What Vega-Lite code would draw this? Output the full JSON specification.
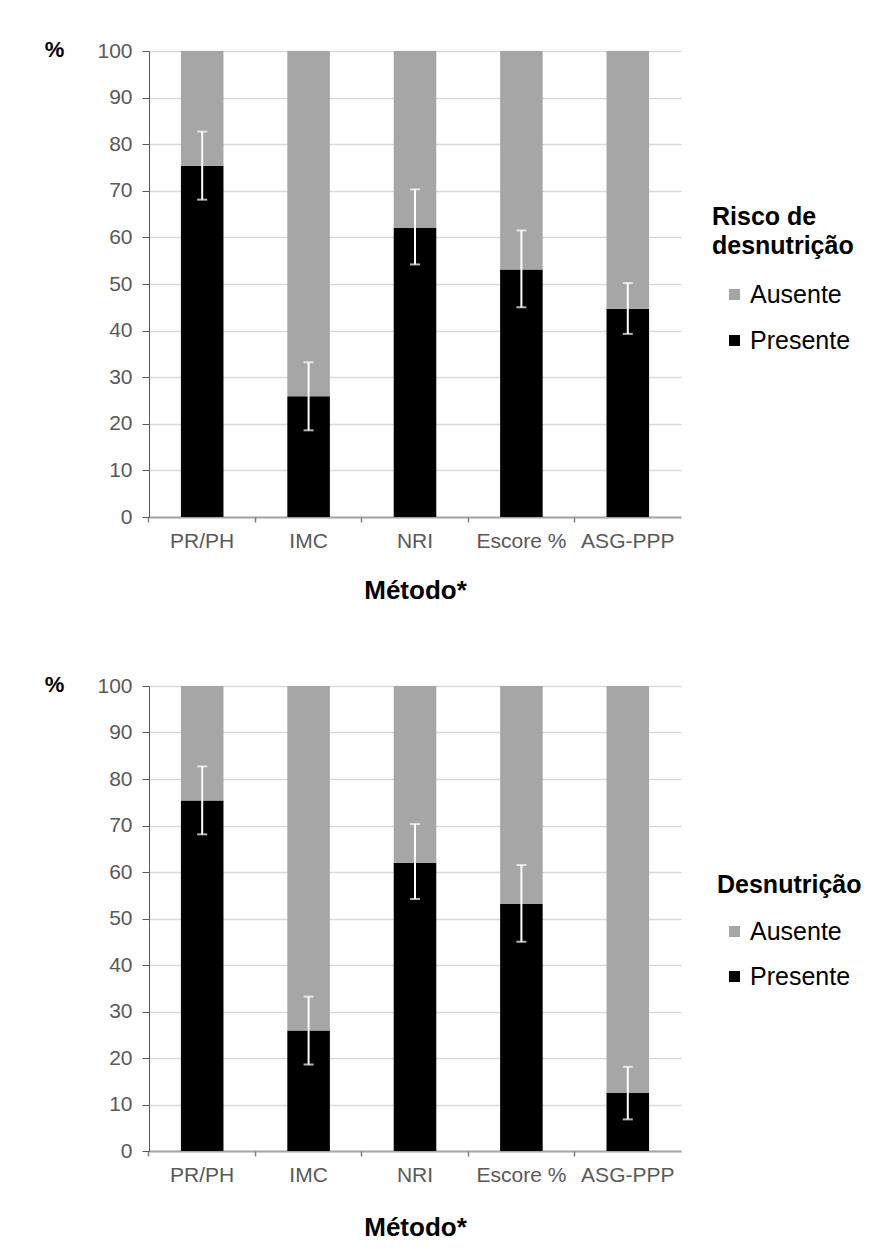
{
  "$schema": "https://vega.github.io/schema/vega-lite/v6.json",
  "background": "white",
  "padding": {"left": 44, "top": 38, "right": 5, "bottom": 5},
  "config": {
    "font": "Liberation Sans",
    "view": {"stroke": null},
    "axis": {"labelFont": "Liberation Sans", "titleFont": "Liberation Sans"},
    "legend": {"labelFont": "Liberation Sans", "titleFont": "Liberation Sans"}
  },
  "datasets": {
    "bars1": [
      {"metodo": "PR/PH", "status": "Presente", "valor": 75.4},
      {"metodo": "PR/PH", "status": "Ausente", "valor": 24.6},
      {"metodo": "IMC", "status": "Presente", "valor": 25.9},
      {"metodo": "IMC", "status": "Ausente", "valor": 74.1},
      {"metodo": "NRI", "status": "Presente", "valor": 62.0},
      {"metodo": "NRI", "status": "Ausente", "valor": 38.0},
      {"metodo": "Escore %", "status": "Presente", "valor": 53.1},
      {"metodo": "Escore %", "status": "Ausente", "valor": 46.9},
      {"metodo": "ASG-PPP", "status": "Presente", "valor": 44.7},
      {"metodo": "ASG-PPP", "status": "Ausente", "valor": 55.3}
    ],
    "err1": [
      {"metodo": "PR/PH", "lo": 68.1, "hi": 82.7},
      {"metodo": "IMC", "lo": 18.6, "hi": 33.2},
      {"metodo": "NRI", "lo": 54.2, "hi": 70.3},
      {"metodo": "Escore %", "lo": 45.0, "hi": 61.5},
      {"metodo": "ASG-PPP", "lo": 39.3, "hi": 50.2}
    ],
    "bars2": [
      {"metodo": "PR/PH", "status": "Presente", "valor": 75.4},
      {"metodo": "PR/PH", "status": "Ausente", "valor": 24.6},
      {"metodo": "IMC", "status": "Presente", "valor": 25.9},
      {"metodo": "IMC", "status": "Ausente", "valor": 74.1},
      {"metodo": "NRI", "status": "Presente", "valor": 62.0},
      {"metodo": "NRI", "status": "Ausente", "valor": 38.0},
      {"metodo": "Escore %", "status": "Presente", "valor": 53.1},
      {"metodo": "Escore %", "status": "Ausente", "valor": 46.9},
      {"metodo": "ASG-PPP", "status": "Presente", "valor": 12.5},
      {"metodo": "ASG-PPP", "status": "Ausente", "valor": 87.5}
    ],
    "err2": [
      {"metodo": "PR/PH", "lo": 68.1, "hi": 82.7},
      {"metodo": "IMC", "lo": 18.6, "hi": 33.2},
      {"metodo": "NRI", "lo": 54.2, "hi": 70.3},
      {"metodo": "Escore %", "lo": 45.0, "hi": 61.5},
      {"metodo": "ASG-PPP", "lo": 6.8, "hi": 18.1}
    ]
  },
  "resolve": {"scale": {"color": "independent"}},
  "spacing": 70,
  "vconcat": [
    {
      "width": 532,
      "height": 466,
      "resolve": {"axis": {"x": "independent"}},
      "layer": [
        {
          "data": {"name": "bars1"},
          "mark": {"type": "bar"},
          "encoding": {
            "x": {"field": "metodo", "type": "nominal", "title": "Método*",
              "sort": ["PR/PH", "IMC", "NRI", "Escore %", "ASG-PPP"],
              "scale": {"paddingInner": 0.6, "paddingOuter": 0.3},
              "axis": {"orient": "bottom", "labelAngle": 0, "labelFontSize": 21, "labelColor": "#595959", "labelPadding": 13,
                "ticks": false, "tickSize": 0, "domainColor": "#a6a6a6", "domainWidth": 2,
                "titleFontSize": 26, "titleFontWeight": "bold", "titleColor": "black", "titlePadding": 26}},
            "y": {"field": "valor", "type": "quantitative", "title": "%",
              "scale": {"domain": [0, 100]},
              "axis": {"values": [0, 10, 20, 30, 40, 50, 60, 70, 80, 90, 100],
                "labelFontSize": 21, "labelColor": "#595959", "labelPadding": 10,
                "tickSize": 7, "tickColor": "#595959", "domainColor": "#595959",
                "gridColor": "#d9d9d9", "gridWidth": 1.5,
                "titleAngle": 0, "titleX": -95, "titleY": -2, "titleAlign": "center", "titleBaseline": "middle",
                "titleFontSize": 22, "titleFontWeight": "bold", "titleColor": "black"}},
            "color": {"field": "status", "type": "nominal",
              "scale": {"domain": ["Ausente", "Presente"], "range": ["#a6a6a6", "#000000"]},
              "legend": {"orient": "none", "legendX": 563, "legendY": 154, "direction": "vertical",
                "title": ["Risco de", "desnutrição"], "titleFontSize": 25, "titleFontWeight": "bold",
                "titleColor": "black", "titleLineHeight": 29, "titlePadding": 23,
                "labelFontSize": 25, "labelColor": "black", "labelOffset": 3,
                "symbolType": "square", "symbolSize": 121, "symbolStrokeWidth": 0, "symbolOffset": 10,
                "rowPadding": 20, "padding": 0}},
            "order": {"field": "status", "sort": "descending"}
          }
        },
        {
          "data": {"name": "err1"},
          "mark": {"type": "rule", "color": "white", "strokeWidth": 2},
          "encoding": {
            "x": {"field": "metodo", "type": "nominal", "sort": ["PR/PH", "IMC", "NRI", "Escore %", "ASG-PPP"],
              "axis": {"orient": "bottom", "title": null, "labels": false, "domain": false, "grid": false, "ticks": true,
                "bandPosition": -0.75, "tickSize": 5, "tickColor": "#7f7f7f", "tickWidth": 1.5}},
            "y": {"field": "lo", "type": "quantitative", "title": "%"},
            "y2": {"field": "hi"}
          }
        },
        {
          "data": {"name": "err1"},
          "mark": {"type": "tick", "color": "white", "thickness": 2, "size": 10},
          "encoding": {
            "x": {"field": "metodo", "type": "nominal", "sort": ["PR/PH", "IMC", "NRI", "Escore %", "ASG-PPP"], "axis": null},
            "y": {"field": "lo", "type": "quantitative", "title": "%"}
          }
        },
        {
          "data": {"name": "err1"},
          "mark": {"type": "tick", "color": "white", "thickness": 2, "size": 10},
          "encoding": {
            "x": {"field": "metodo", "type": "nominal", "sort": ["PR/PH", "IMC", "NRI", "Escore %", "ASG-PPP"], "axis": null},
            "y": {"field": "hi", "type": "quantitative", "title": "%"}
          }
        }
      ]
    },
    {
      "width": 532,
      "height": 465,
      "resolve": {"axis": {"x": "independent"}},
      "layer": [
        {
          "data": {"name": "bars2"},
          "mark": {"type": "bar"},
          "encoding": {
            "x": {"field": "metodo", "type": "nominal", "title": "Método*",
              "sort": ["PR/PH", "IMC", "NRI", "Escore %", "ASG-PPP"],
              "scale": {"paddingInner": 0.6, "paddingOuter": 0.3},
              "axis": {"orient": "bottom", "labelAngle": 0, "labelFontSize": 21, "labelColor": "#595959", "labelPadding": 13,
                "ticks": false, "tickSize": 0, "domainColor": "#a6a6a6", "domainWidth": 2,
                "titleFontSize": 26, "titleFontWeight": "bold", "titleColor": "black", "titlePadding": 29}},
            "y": {"field": "valor", "type": "quantitative", "title": "%",
              "scale": {"domain": [0, 100]},
              "axis": {"values": [0, 10, 20, 30, 40, 50, 60, 70, 80, 90, 100],
                "labelFontSize": 21, "labelColor": "#595959", "labelPadding": 10,
                "tickSize": 7, "tickColor": "#595959", "domainColor": "#595959",
                "gridColor": "#d9d9d9", "gridWidth": 1.5,
                "titleAngle": 0, "titleX": -95, "titleY": -2, "titleAlign": "center", "titleBaseline": "middle",
                "titleFontSize": 22, "titleFontWeight": "bold", "titleColor": "black"}},
            "color": {"field": "status", "type": "nominal",
              "scale": {"domain": ["Ausente", "Presente"], "range": ["#a6a6a6", "#000000"]},
              "legend": {"orient": "none", "legendX": 568, "legendY": 187, "direction": "vertical",
                "title": "Desnutrição", "titleFontSize": 25, "titleFontWeight": "bold",
                "titleColor": "black", "titlePadding": 21,
                "labelFontSize": 25, "labelColor": "black", "labelOffset": 3,
                "symbolType": "square", "symbolSize": 121, "symbolStrokeWidth": 0, "symbolOffset": 5,
                "rowPadding": 19, "padding": 0}},
            "order": {"field": "status", "sort": "descending"}
          }
        },
        {
          "data": {"name": "err2"},
          "mark": {"type": "rule", "color": "white", "strokeWidth": 2},
          "encoding": {
            "x": {"field": "metodo", "type": "nominal", "sort": ["PR/PH", "IMC", "NRI", "Escore %", "ASG-PPP"],
              "axis": {"orient": "bottom", "title": null, "labels": false, "domain": false, "grid": false, "ticks": true,
                "bandPosition": -0.75, "tickSize": 5, "tickColor": "#7f7f7f", "tickWidth": 1.5}},
            "y": {"field": "lo", "type": "quantitative", "title": "%"},
            "y2": {"field": "hi"}
          }
        },
        {
          "data": {"name": "err2"},
          "mark": {"type": "tick", "color": "white", "thickness": 2, "size": 10},
          "encoding": {
            "x": {"field": "metodo", "type": "nominal", "sort": ["PR/PH", "IMC", "NRI", "Escore %", "ASG-PPP"], "axis": null},
            "y": {"field": "lo", "type": "quantitative", "title": "%"}
          }
        },
        {
          "data": {"name": "err2"},
          "mark": {"type": "tick", "color": "white", "thickness": 2, "size": 10},
          "encoding": {
            "x": {"field": "metodo", "type": "nominal", "sort": ["PR/PH", "IMC", "NRI", "Escore %", "ASG-PPP"], "axis": null},
            "y": {"field": "hi", "type": "quantitative", "title": "%"}
          }
        }
      ]
    }
  ]
}
